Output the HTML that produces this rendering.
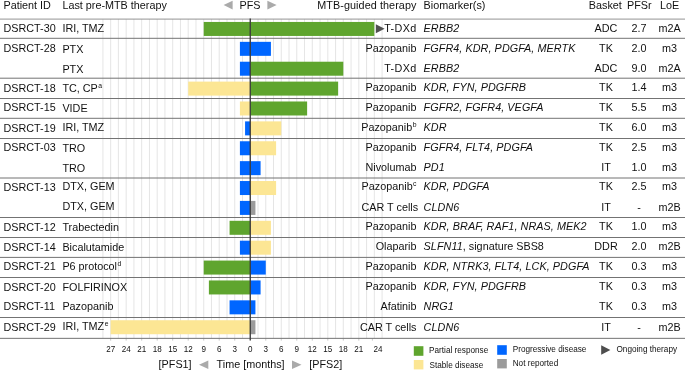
<!DOCTYPE html>
<html><head><meta charset="utf-8"><title>Swimmer plot</title>
<style>html,body{margin:0;padding:0;background:#fff}svg{display:block;will-change:transform}text{font-family:"Liberation Sans",sans-serif;fill:#111}</style></head><body>
<svg width="685" height="371" viewBox="0 0 685 371">
<rect width="685" height="371" fill="#fff"/>
<g stroke="#dedede" stroke-width="0.8">
<line x1="102.91" y1="19.10" x2="102.91" y2="338.35"/>
<line x1="110.66" y1="19.10" x2="110.66" y2="338.35"/>
<line x1="118.41" y1="19.10" x2="118.41" y2="338.35"/>
<line x1="126.17" y1="19.10" x2="126.17" y2="338.35"/>
<line x1="133.93" y1="19.10" x2="133.93" y2="338.35"/>
<line x1="141.68" y1="19.10" x2="141.68" y2="338.35"/>
<line x1="149.44" y1="19.10" x2="149.44" y2="338.35"/>
<line x1="157.19" y1="19.10" x2="157.19" y2="338.35"/>
<line x1="164.94" y1="19.10" x2="164.94" y2="338.35"/>
<line x1="172.70" y1="19.10" x2="172.70" y2="338.35"/>
<line x1="180.45" y1="19.10" x2="180.45" y2="338.35"/>
<line x1="188.21" y1="19.10" x2="188.21" y2="338.35"/>
<line x1="195.97" y1="19.10" x2="195.97" y2="338.35"/>
<line x1="203.72" y1="19.10" x2="203.72" y2="338.35"/>
<line x1="211.47" y1="19.10" x2="211.47" y2="338.35"/>
<line x1="219.23" y1="19.10" x2="219.23" y2="338.35"/>
<line x1="226.99" y1="19.10" x2="226.99" y2="338.35"/>
<line x1="234.74" y1="19.10" x2="234.74" y2="338.35"/>
<line x1="242.50" y1="19.10" x2="242.50" y2="338.35"/>
<line x1="258.00" y1="19.10" x2="258.00" y2="338.35"/>
<line x1="265.76" y1="19.10" x2="265.76" y2="338.35"/>
<line x1="273.51" y1="19.10" x2="273.51" y2="338.35"/>
<line x1="281.27" y1="19.10" x2="281.27" y2="338.35"/>
<line x1="289.02" y1="19.10" x2="289.02" y2="338.35"/>
<line x1="296.78" y1="19.10" x2="296.78" y2="338.35"/>
<line x1="304.53" y1="19.10" x2="304.53" y2="338.35"/>
<line x1="312.29" y1="19.10" x2="312.29" y2="338.35"/>
<line x1="320.05" y1="19.10" x2="320.05" y2="338.35"/>
<line x1="327.80" y1="19.10" x2="327.80" y2="338.35"/>
<line x1="335.56" y1="19.10" x2="335.56" y2="338.35"/>
<line x1="343.31" y1="19.10" x2="343.31" y2="338.35"/>
<line x1="351.06" y1="19.10" x2="351.06" y2="338.35"/>
<line x1="358.82" y1="19.10" x2="358.82" y2="338.35"/>
<line x1="366.57" y1="19.10" x2="366.57" y2="338.35"/>
<line x1="374.33" y1="19.10" x2="374.33" y2="338.35"/>
<line x1="382.09" y1="19.10" x2="382.09" y2="338.35"/>
</g>
<g stroke="#c4c4c4" stroke-width="0.9">
<line x1="110.66" y1="338.35" x2="110.66" y2="340.65"/>
<line x1="126.17" y1="338.35" x2="126.17" y2="340.65"/>
<line x1="141.68" y1="338.35" x2="141.68" y2="340.65"/>
<line x1="157.19" y1="338.35" x2="157.19" y2="340.65"/>
<line x1="172.70" y1="338.35" x2="172.70" y2="340.65"/>
<line x1="188.21" y1="338.35" x2="188.21" y2="340.65"/>
<line x1="203.72" y1="338.35" x2="203.72" y2="340.65"/>
<line x1="219.23" y1="338.35" x2="219.23" y2="340.65"/>
<line x1="234.74" y1="338.35" x2="234.74" y2="340.65"/>
<line x1="265.76" y1="338.35" x2="265.76" y2="340.65"/>
<line x1="281.27" y1="338.35" x2="281.27" y2="340.65"/>
<line x1="296.78" y1="338.35" x2="296.78" y2="340.65"/>
<line x1="312.29" y1="338.35" x2="312.29" y2="340.65"/>
<line x1="327.80" y1="338.35" x2="327.80" y2="340.65"/>
<line x1="343.31" y1="338.35" x2="343.31" y2="340.65"/>
<line x1="358.82" y1="338.35" x2="358.82" y2="340.65"/>
<line x1="372.4" y1="338.35" x2="372.4" y2="340.65"/>
</g>
<rect x="203.72" y="21.95" width="46.53" height="14.0" fill="#5fa52e"/>
<rect x="250.25" y="21.95" width="124.08" height="14.0" fill="#5fa52e"/>
<path d="M375.80 24.35 L384.60 28.75 L375.80 33.35 Z" fill="#505050"/>
<rect x="239.91" y="41.84" width="10.34" height="14.0" fill="#0066ff"/>
<rect x="250.25" y="41.84" width="20.68" height="14.0" fill="#0066ff"/>
<rect x="239.91" y="61.72" width="10.34" height="14.0" fill="#0066ff"/>
<rect x="250.25" y="61.72" width="93.06" height="14.0" fill="#5fa52e"/>
<rect x="188.21" y="81.61" width="62.04" height="14.0" fill="#fce694"/>
<rect x="250.25" y="81.61" width="87.89" height="14.0" fill="#5fa52e"/>
<rect x="239.91" y="101.49" width="10.34" height="14.0" fill="#fce694"/>
<rect x="250.25" y="101.49" width="56.87" height="14.0" fill="#5fa52e"/>
<rect x="245.08" y="121.38" width="5.17" height="14.0" fill="#0066ff"/>
<rect x="250.25" y="121.38" width="31.02" height="14.0" fill="#fce694"/>
<rect x="239.91" y="141.26" width="10.34" height="14.0" fill="#0066ff"/>
<rect x="250.25" y="141.26" width="25.85" height="14.0" fill="#fce694"/>
<rect x="239.91" y="161.15" width="10.34" height="14.0" fill="#0066ff"/>
<rect x="250.25" y="161.15" width="10.34" height="14.0" fill="#0066ff"/>
<rect x="239.91" y="181.03" width="10.34" height="14.0" fill="#0066ff"/>
<rect x="250.25" y="181.03" width="25.85" height="14.0" fill="#fce694"/>
<rect x="239.91" y="200.91" width="10.34" height="14.0" fill="#0066ff"/>
<rect x="250.25" y="200.91" width="5.17" height="14.0" fill="#9b9b9b"/>
<rect x="229.57" y="220.80" width="20.68" height="14.0" fill="#5fa52e"/>
<rect x="250.25" y="220.80" width="20.68" height="14.0" fill="#fce694"/>
<rect x="239.91" y="240.69" width="10.34" height="14.0" fill="#0066ff"/>
<rect x="250.25" y="240.69" width="20.68" height="14.0" fill="#fce694"/>
<rect x="203.72" y="260.57" width="46.53" height="14.0" fill="#5fa52e"/>
<rect x="250.25" y="260.57" width="15.51" height="14.0" fill="#0066ff"/>
<rect x="208.89" y="280.45" width="41.36" height="14.0" fill="#5fa52e"/>
<rect x="250.25" y="280.45" width="10.34" height="14.0" fill="#0066ff"/>
<rect x="229.57" y="300.34" width="20.68" height="14.0" fill="#0066ff"/>
<rect x="250.25" y="300.34" width="5.17" height="14.0" fill="#0066ff"/>
<rect x="110.66" y="320.23" width="139.59" height="14.0" fill="#fce694"/>
<rect x="250.25" y="320.23" width="5.17" height="14.0" fill="#9b9b9b"/>
<line x1="0" y1="19.10" x2="685" y2="19.10" stroke="#888" stroke-width="0.9"/>
<g stroke="#737373" stroke-width="1">
<line x1="0" y1="38.30" x2="685" y2="38.30"/>
<line x1="0" y1="78.20" x2="685" y2="78.20"/>
<line x1="0" y1="98.50" x2="685" y2="98.50"/>
<line x1="0" y1="118.30" x2="685" y2="118.30"/>
<line x1="0" y1="138.50" x2="685" y2="138.50"/>
<line x1="0" y1="178.00" x2="685" y2="178.00"/>
<line x1="0" y1="217.50" x2="685" y2="217.50"/>
<line x1="0" y1="237.50" x2="685" y2="237.50"/>
<line x1="0" y1="257.40" x2="685" y2="257.40"/>
<line x1="0" y1="277.50" x2="685" y2="277.50"/>
<line x1="0" y1="317.50" x2="685" y2="317.50"/>
<line x1="0" y1="338.35" x2="685" y2="338.35"/>
</g>
<line x1="250.25" y1="18.60" x2="250.25" y2="340.55" stroke="#3a3a3a" stroke-width="1.35"/>
<g font-size="10.8">
<text x="3.5" y="8.8">Patient ID</text>
<text x="62.4" y="9.2">Last pre-MTB therapy</text>
<text x="250" y="8.5" text-anchor="middle">PFS</text>
<text x="416.5" y="8.8" text-anchor="end" letter-spacing="0.08">MTB-guided therapy</text>
<text x="423.6" y="8.8">Biomarker(s)</text>
<text x="605.3" y="8.5" text-anchor="middle">Basket</text>
<text x="639.3" y="8.5" text-anchor="middle">PFSr</text>
<text x="669.6" y="8.5" text-anchor="middle">LoE</text>
<text x="3.5" y="32.00">DSRCT-30</text>
<text x="62.4" y="32.00">IRI, TMZ</text>
<text x="416.5" y="32.00" text-anchor="end" letter-spacing="0.32">T-DXd</text>
<text x="423.6" y="32.00"><tspan font-style="italic" letter-spacing="0.07">ERBB2</tspan></text>
<text x="606.0" y="32.00" text-anchor="middle">ADC</text>
<text x="639.0" y="32.00" text-anchor="middle">2.7</text>
<text x="669.6" y="32.00" text-anchor="middle">m2A</text>
<text x="3.5" y="52.00">DSRCT-28</text>
<text x="62.4" y="53.00">PTX</text>
<text x="416.5" y="52.00" text-anchor="end">Pazopanib</text>
<text x="423.6" y="52.00"><tspan font-style="italic" letter-spacing="0.07">FGFR4, KDR, PDGFA, MERTK</tspan></text>
<text x="606.0" y="52.00" text-anchor="middle">TK</text>
<text x="639.0" y="52.00" text-anchor="middle">2.0</text>
<text x="669.6" y="52.00" text-anchor="middle">m3</text>
<text x="62.4" y="73.00">PTX</text>
<text x="416.5" y="72.00" text-anchor="end" letter-spacing="0.32">T-DXd</text>
<text x="423.6" y="72.00"><tspan font-style="italic" letter-spacing="0.07">ERBB2</tspan></text>
<text x="606.0" y="72.00" text-anchor="middle">ADC</text>
<text x="639.0" y="72.00" text-anchor="middle">9.0</text>
<text x="669.6" y="72.00" text-anchor="middle">m2A</text>
<text x="3.5" y="92.00">DSRCT-18</text>
<text x="62.4" y="92.00">TC, CP<tspan font-size="6.8" dy="-4" dx="0.45">a</tspan></text>
<text x="416.5" y="91.00" text-anchor="end">Pazopanib</text>
<text x="423.6" y="91.00"><tspan font-style="italic" letter-spacing="0.07">KDR, FYN, PDGFRB</tspan></text>
<text x="606.0" y="91.00" text-anchor="middle">TK</text>
<text x="639.0" y="91.00" text-anchor="middle">1.4</text>
<text x="669.6" y="91.00" text-anchor="middle">m3</text>
<text x="3.5" y="111.00">DSRCT-15</text>
<text x="62.4" y="112.00">VIDE</text>
<text x="416.5" y="111.00" text-anchor="end">Pazopanib</text>
<text x="423.6" y="111.00"><tspan font-style="italic" letter-spacing="0.07">FGFR2, FGFR4, VEGFA</tspan></text>
<text x="606.0" y="111.00" text-anchor="middle">TK</text>
<text x="639.0" y="111.00" text-anchor="middle">5.5</text>
<text x="669.6" y="111.00" text-anchor="middle">m3</text>
<text x="3.5" y="132.00">DSRCT-19</text>
<text x="62.4" y="131.00">IRI, TMZ</text>
<text x="416.5" y="131.00" text-anchor="end">Pazopanib<tspan font-size="6.8" dy="-4" dx="0.45">b</tspan></text>
<text x="423.6" y="131.00"><tspan font-style="italic" letter-spacing="0.07">KDR</tspan></text>
<text x="606.0" y="131.00" text-anchor="middle">TK</text>
<text x="639.0" y="131.00" text-anchor="middle">6.0</text>
<text x="669.6" y="131.00" text-anchor="middle">m3</text>
<text x="3.5" y="151.00">DSRCT-03</text>
<text x="62.4" y="152.00">TRO</text>
<text x="416.5" y="151.00" text-anchor="end">Pazopanib</text>
<text x="423.6" y="151.00"><tspan font-style="italic" letter-spacing="0.07">FGFR4, FLT4, PDGFA</tspan></text>
<text x="606.0" y="151.00" text-anchor="middle">TK</text>
<text x="639.0" y="151.00" text-anchor="middle">2.5</text>
<text x="669.6" y="151.00" text-anchor="middle">m3</text>
<text x="62.4" y="172.00">TRO</text>
<text x="416.5" y="171.00" text-anchor="end">Nivolumab</text>
<text x="423.6" y="171.00"><tspan font-style="italic" letter-spacing="0.07">PD1</tspan></text>
<text x="606.0" y="171.00" text-anchor="middle">IT</text>
<text x="639.0" y="171.00" text-anchor="middle">1.0</text>
<text x="669.6" y="171.00" text-anchor="middle">m3</text>
<text x="3.5" y="191.00">DSRCT-13</text>
<text x="62.4" y="190.00">DTX, GEM</text>
<text x="416.5" y="190.00" text-anchor="end">Pazopanib<tspan font-size="6.8" dy="-4" dx="0.45">c</tspan></text>
<text x="423.6" y="190.00"><tspan font-style="italic" letter-spacing="0.07">KDR, PDGFA</tspan></text>
<text x="606.0" y="190.00" text-anchor="middle">TK</text>
<text x="639.0" y="190.00" text-anchor="middle">2.5</text>
<text x="669.6" y="190.00" text-anchor="middle">m3</text>
<text x="62.4" y="210.00">DTX, GEM</text>
<text x="418.1" y="211.00" text-anchor="end">CAR T cells</text>
<text x="423.6" y="211.00"><tspan font-style="italic" letter-spacing="0.07">CLDN6</tspan></text>
<text x="606.0" y="211.00" text-anchor="middle">IT</text>
<text x="639.0" y="211.00" text-anchor="middle">-</text>
<text x="669.6" y="211.00" text-anchor="middle">m2B</text>
<text x="3.5" y="231.00">DSRCT-12</text>
<text x="62.4" y="231.00">Trabectedin</text>
<text x="416.5" y="230.00" text-anchor="end">Pazopanib</text>
<text x="423.6" y="230.00"><tspan font-style="italic" letter-spacing="0.07">KDR, BRAF, RAF1, NRAS, MEK2</tspan></text>
<text x="606.0" y="230.00" text-anchor="middle">TK</text>
<text x="639.0" y="230.00" text-anchor="middle">1.0</text>
<text x="669.6" y="230.00" text-anchor="middle">m3</text>
<text x="3.5" y="251.00">DSRCT-14</text>
<text x="62.4" y="251.00">Bicalutamide</text>
<text x="416.5" y="250.00" text-anchor="end">Olaparib</text>
<text x="423.6" y="250.00"><tspan font-style="italic" letter-spacing="0.07">SLFN11</tspan>, signature SBS8</text>
<text x="606.0" y="250.00" text-anchor="middle">DDR</text>
<text x="639.0" y="250.00" text-anchor="middle">2.0</text>
<text x="669.6" y="250.00" text-anchor="middle">m2B</text>
<text x="3.5" y="270.00">DSRCT-21</text>
<text x="62.4" y="270.00">P6 protocol<tspan font-size="6.8" dy="-4" dx="0.45">d</tspan></text>
<text x="416.5" y="270.00" text-anchor="end">Pazopanib</text>
<text x="423.6" y="270.00"><tspan font-style="italic" letter-spacing="0.07">KDR, NTRK3, FLT4, LCK, PDGFA</tspan></text>
<text x="606.0" y="270.00" text-anchor="middle">TK</text>
<text x="639.0" y="270.00" text-anchor="middle">0.3</text>
<text x="669.6" y="270.00" text-anchor="middle">m3</text>
<text x="3.5" y="291.00">DSRCT-20</text>
<text x="62.4" y="291.00">FOLFIRINOX</text>
<text x="416.5" y="290.00" text-anchor="end">Pazopanib</text>
<text x="423.6" y="290.00"><tspan font-style="italic" letter-spacing="0.07">KDR, FYN, PDGFRB</tspan></text>
<text x="606.0" y="290.00" text-anchor="middle">TK</text>
<text x="639.0" y="290.00" text-anchor="middle">0.3</text>
<text x="669.6" y="290.00" text-anchor="middle">m3</text>
<text x="3.5" y="310.00">DSRCT-11</text>
<text x="62.4" y="310.00">Pazopanib</text>
<text x="416.5" y="310.00" text-anchor="end">Afatinib</text>
<text x="423.6" y="310.00"><tspan font-style="italic" letter-spacing="0.07">NRG1</tspan></text>
<text x="606.0" y="310.00" text-anchor="middle">TK</text>
<text x="639.0" y="310.00" text-anchor="middle">0.3</text>
<text x="669.6" y="310.00" text-anchor="middle">m3</text>
<text x="3.5" y="331.00">DSRCT-29</text>
<text x="62.4" y="330.00">IRI, TMZ<tspan font-size="6.8" dy="-4" dx="0.45">e</tspan></text>
<text x="416.5" y="331.00" text-anchor="end">CAR T cells</text>
<text x="423.6" y="331.00"><tspan font-style="italic" letter-spacing="0.07">CLDN6</tspan></text>
<text x="606.0" y="331.00" text-anchor="middle">IT</text>
<text x="639.0" y="331.00" text-anchor="middle">-</text>
<text x="669.6" y="331.00" text-anchor="middle">m2B</text>
</g>
<path d="M232.6 0.8 L232.6 9.4 L223.6 5.1 Z" fill="#aaa"/>
<path d="M267.4 0.8 L267.4 9.4 L276.6 5.1 Z" fill="#aaa"/>
<g font-size="8.6" text-anchor="middle" transform="scale(0.94,1)">
<text x="117.72" y="351.8">27</text>
<text x="134.22" y="351.8">24</text>
<text x="150.72" y="351.8">21</text>
<text x="167.22" y="351.8">18</text>
<text x="183.72" y="351.8">15</text>
<text x="200.22" y="351.8">12</text>
<text x="216.72" y="351.8">9</text>
<text x="233.22" y="351.8">6</text>
<text x="249.72" y="351.8">3</text>
<text x="266.22" y="351.8">0</text>
<text x="282.72" y="351.8">3</text>
<text x="299.22" y="351.8">6</text>
<text x="315.72" y="351.8">9</text>
<text x="332.22" y="351.8">12</text>
<text x="348.72" y="351.8">15</text>
<text x="365.22" y="351.8">18</text>
<text x="381.72" y="351.8">21</text>
<text x="402.13" y="351.8">24</text>
</g>
<g font-size="10.8">
<text x="158.6" y="368.3">[PFS1]</text>
<text x="216.6" y="368.3">Time [months]</text>
<text x="309.2" y="368.3">[PFS2]</text>
</g>
<path d="M208.3 360.6 L208.3 369 L199 364.8 Z" fill="#aaa"/>
<path d="M292 360.6 L292 369 L301.5 364.8 Z" fill="#aaa"/>
<rect x="413.8" y="346.2" width="9.6" height="9.6" fill="#5fa52e"/>
<rect x="413.8" y="360.0" width="9.6" height="9.4" fill="#fce694"/>
<rect x="497.2" y="345.2" width="9.6" height="9.6" fill="#0066ff"/>
<rect x="497.2" y="359.0" width="9.6" height="9.4" fill="#9b9b9b"/>
<path d="M601.2 345.2 L601.2 354.8 L610.4 350 Z" fill="#4d4d4d"/>
<g font-size="8.2">
<text x="429.1" y="353.4">Partial response</text>
<text x="429.5" y="368.1">Stable disease</text>
<text x="512.7" y="352.4">Progressive disease</text>
<text x="512.7" y="365.7">Not reported</text>
<text x="616.5" y="352.4">Ongoing therapy</text>
</g>
</svg></body></html>
